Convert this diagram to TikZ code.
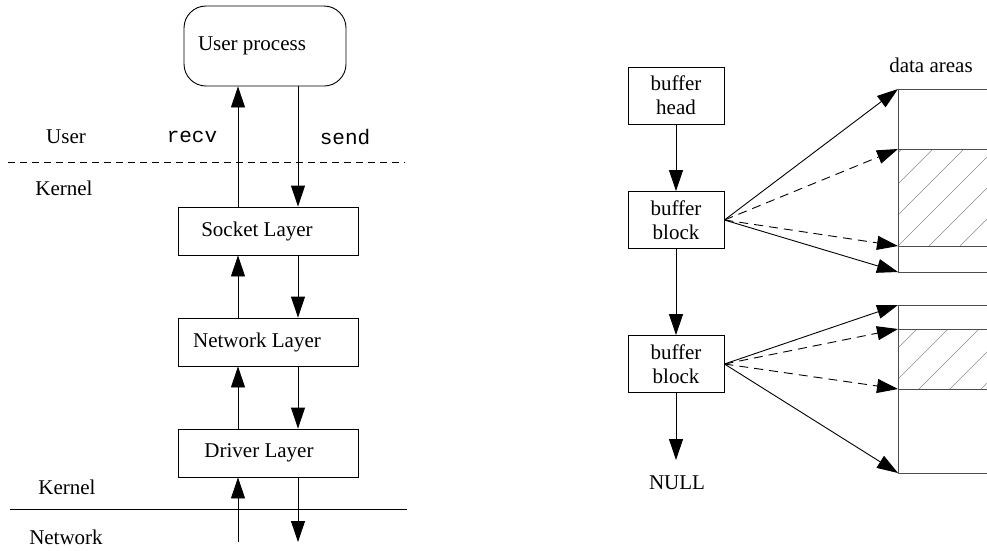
\documentclass[tikz,border=0pt]{standalone}
\usepackage{fontspec}
\setmainfont{Liberation Serif}
\setmonofont{Liberation Mono}
\usetikzlibrary{arrows.meta,calc}
\begin{document}
\begin{tikzpicture}[x=1pt,y=-1pt, line width=0.9pt,
  every node/.style={font=\fontsize{21}{24}\selectfont},
  box/.style={draw, rectangle, inner sep=0pt},
  layer/.style={box, minimum width=180pt, minimum height=48pt},
  buf/.style={box, align=center, minimum width=96pt, minimum height=57pt},
  arr/.style={-{Triangle[length=21pt,width=14pt]}},
  dasharr/.style={arr, dash pattern=on 9pt off 6pt},
  area/.style={draw=black!70, line width=0.9pt},
  hatch/.style={draw=black!45, line width=0.6pt},
  lbl/.style={inner sep=0pt}]
\useasboundingbox (0,0) rectangle (987,550);

% ---------- left diagram ----------
\node[box, rounded corners=22pt, minimum width=162pt, minimum height=80pt,
      label={[xshift=-13pt]center:User process}] (user) at (265,46) {};
\node[layer, label={[xshift=-11pt]center:Socket Layer}] (sock) at (268,231) {};
\node[layer, label={[xshift=-11pt]center:Network Layer}] (net) at (268,342) {};
\node[layer, label={[xshift=-9pt]center:Driver Layer}] (drv) at (268,453) {};

\coordinate (cL) at (238,0);
\coordinate (cR) at (298,0);
\coordinate (netin) at (238,542);
\coordinate (netout) at (298,542);

\node[lbl] (userlbl) at (66,137) {User};
\node[lbl, font=\fontsize{21}{24}\selectfont\ttfamily] (recv) at (192,137) {recv};
\node[lbl, font=\fontsize{21}{24}\selectfont\ttfamily] (send) at (345,137) {send};
\node[lbl] (kern1) at (64,188) {Kernel};
\node[lbl] (kern2) at (67,487) {Kernel};
\node[lbl] (netlbl) at (66,537) {Network};

\draw[dash pattern=on 7pt off 5pt] (8,162) -- (405,162);
\draw (10,509) -- (407,509);

\draw[arr] (sock.north -| cL) -- (user.south -| cL);
\draw[arr] (user.south -| cR) -- (sock.north -| cR);
\draw[arr] (net.north -| cL) -- (sock.south -| cL);
\draw[arr] (sock.south -| cR) -- (net.north -| cR);
\draw[arr] (drv.north -| cL) -- (net.south -| cL);
\draw[arr] (net.south -| cR) -- (drv.north -| cR);
\draw[arr] (netin) -- (drv.south -| cL);
\draw[arr] (drv.south -| cR) -- (netout);

% ---------- right diagram ----------
\node[buf] (head) at (676,95.5) {buffer\\head};
\node[buf] (blk1) at (676,220) {buffer\\block};
\node[buf] (blk2) at (676,364) {buffer\\block};
\coordinate (nulltip) at (676,460);
\node[lbl] (null) at (677,483) {NULL};
\node[lbl] (dalbl) at (931,65) {data areas};

\draw[arr] (head) -- (blk1);
\draw[arr] (blk1) -- (blk2);
\draw[arr] (blk2.south) -- (nulltip);

% data area 1
\coordinate (d1t) at (898,89);
\coordinate (d1h) at (898,149);
\coordinate (d1l) at (898,246);
\coordinate (d1b) at (898,272);
\begin{scope}
  \clip (898,149) rectangle (987,246);
  \foreach \x in {805,836,...,1000} \draw[hatch] (\x,246) -- ++(97,-97);
\end{scope}
\draw[area] (987,89) -- (d1t) -- (d1b) -- (987,272);
\draw[area] (d1h) -- (987,149);
\draw[area] (d1l) -- (987,246);

% data area 2
\coordinate (d2t) at (898,305);
\coordinate (d2h) at (898,329);
\coordinate (d2l) at (898,389);
\coordinate (d2b) at (898,473);
\begin{scope}
  \clip (898,329) rectangle (987,389);
  \foreach \x in {826,857,...,1000} \draw[hatch] (\x,389) -- ++(60,-60);
\end{scope}
\draw[area] (987,305) -- (d2t) -- (d2b) -- (987,473);
\draw[area] (d2h) -- (987,329);
\draw[area] (d2l) -- (987,389);

\draw[arr] (blk1.east) -- (d1t);
\draw[dasharr] (blk1.east) -- (d1h);
\draw[dasharr] (blk1.east) -- (d1l);
\draw[arr] (blk1.east) -- (d1b);

\draw[arr] (blk2.east) -- (d2t);
\draw[dasharr] (blk2.east) -- (d2h);
\draw[dasharr] (blk2.east) -- (d2l);
\draw[arr] (blk2.east) -- (d2b);
\end{tikzpicture}
\end{document}
